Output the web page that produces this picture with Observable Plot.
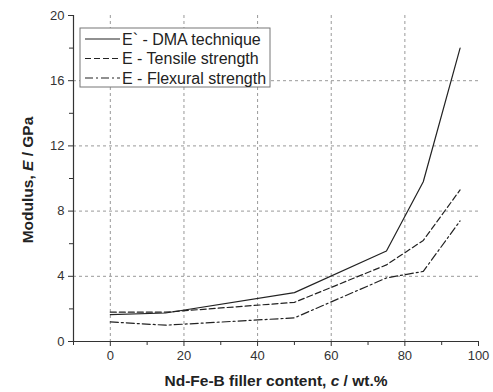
<!DOCTYPE html>
<html><head><meta charset="utf-8">
<script src="https://cdn.jsdelivr.net/npm/d3@7"></script>
<script src="https://cdn.jsdelivr.net/npm/@observablehq/plot@0.6"></script>
<style>body{margin:0;background:#fff;font-family:"Liberation Sans",Arial,sans-serif;}</style>
</head><body><div id="chart"></div>
<script>
const filler = [0, 15, 50, 75, 85, 95];
const dma = [1.65, 1.75, 3.0, 5.55, 9.8, 18.0];
const tensile = [1.8, 1.8, 2.4, 4.7, 6.2, 9.3];
const flexural = [1.2, 1.0, 1.45, 3.9, 4.3, 7.4];
const seriesNames = ["E` - DMA technique", "E - Tensile strength", "E - Flexural strength"];
const dashes = [null, "6,3", "8,3,2,3"];
const xMajor = [0, 20, 40, 60, 80, 100];
const xMinor = [-10, 10, 30, 50, 70, 90];
const yMajor = [0, 4, 8, 12, 16, 20];
const yMinor = [2, 6, 10, 14, 18];
const xGrid = [0, 20, 40, 60, 80];
const yGrid = [4, 8, 12, 16];

const seriesVals = [dma, tensile, flexural];
const rows = [];
seriesVals.forEach((vals, i) => vals.forEach((v, j) => rows.push({x: filler[j], y: v, s: seriesNames[i]})));

const lineMarks = seriesNames.map((name, i) =>
  Plot.line(rows.filter(r => r.s === name), {x: "x", y: "y", stroke: "#222", strokeWidth: 1.2, strokeDasharray: dashes[i]}));

const plot = Plot.plot({
  width: 493, height: 392,
  marginLeft: 73, marginRight: 15, marginTop: 15, marginBottom: 51,
  style: {fontFamily: "Liberation Sans, Arial, sans-serif", fontSize: "13px", color: "#333", background: "#fff"},
  x: {domain: [-10, 100]},
  y: {domain: [0, 20]},
  marks: [
    Plot.gridX(xGrid, {stroke: "#999", strokeOpacity: 1, strokeDasharray: "3,3", strokeWidth: 1}),
    Plot.gridY(yGrid, {stroke: "#999", strokeOpacity: 1, strokeDasharray: "3,3", strokeWidth: 1}),
    Plot.axisX(xMajor, {tickSize: 5, tickPadding: 4, label: null, fontSize: 13, stroke: "#333"}),
    Plot.axisX(xMinor, {tickSize: 4, tickFormat: () => "", label: null, stroke: "#333"}),
    Plot.axisY(yMajor, {tickSize: 5, tickPadding: 4, label: null, fontSize: 13, stroke: "#333"}),
    Plot.axisY(yMinor, {tickSize: 4, tickFormat: () => "", label: null, stroke: "#333"}),
    Plot.ruleX([-10], {stroke: "#333", strokeWidth: 1.2}),
    Plot.ruleY([0], {stroke: "#333", strokeWidth: 1.2}),
    ...lineMarks
  ]
});
document.getElementById("chart").append(plot);

const svg = d3.select(plot);
// axis titles
const xt = svg.append("text").attr("x", 276).attr("y", 386).attr("text-anchor", "middle")
  .attr("font-size", 15.5).attr("font-weight", "bold").attr("fill", "#222");
xt.append("tspan").text("Nd-Fe-B filler content, ");
xt.append("tspan").attr("font-style", "italic").text("c");
xt.append("tspan").text(" / wt.%");
const yt = svg.append("text").attr("transform", "translate(33,180) rotate(-90)").attr("text-anchor", "middle")
  .attr("font-size", 15.5).attr("font-weight", "bold").attr("fill", "#222");
yt.append("tspan").text("Modulus, ");
yt.append("tspan").attr("font-style", "italic").text("E");
yt.append("tspan").text(" / GPa");

// legend
const lg = svg.append("g").attr("transform", "translate(80,28)");
lg.append("rect").attr("width", 190).attr("height", 59).attr("fill", "#fff").attr("stroke", "#777").attr("stroke-width", 1);
seriesNames.forEach((name, i) => {
  const yy = 11 + i * 19.5;
  lg.append("line").attr("x1", 5).attr("x2", 40).attr("y1", yy).attr("y2", yy)
    .attr("stroke", "#222").attr("stroke-width", 1.2).attr("stroke-dasharray", dashes[i]);
  lg.append("text").attr("x", 42).attr("y", yy + 5.5).attr("text-anchor", "start")
    .attr("font-size", 16).attr("fill", "#222").text(name);
});
</script></body></html>
